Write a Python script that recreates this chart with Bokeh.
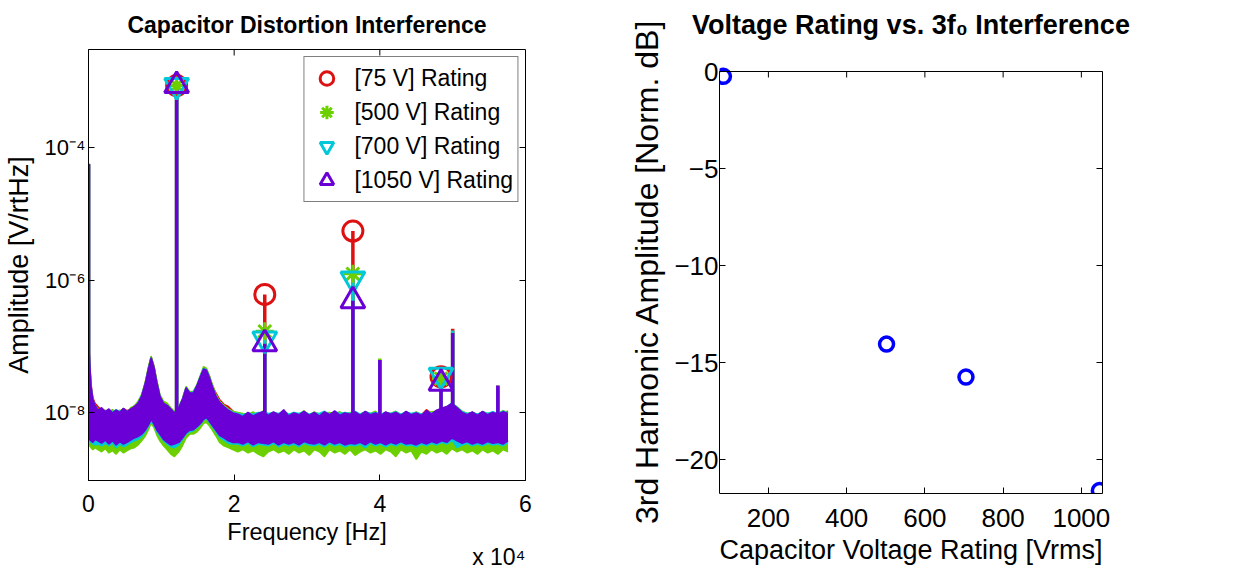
from bokeh.plotting import figure
from bokeh.layouts import row
from bokeh.models import (FixedTicker, LinearAxis, LogAxis, Legend, LegendItem,
                          Title, ColumnDataSource, Range1d, Span)
from bokeh.embed import file_html
from bokeh.resources import INLINE

FONT = "Liberation Sans"

# ---------------- data: left panel ----------------
SERIES = ["[75 V] Rating", "[500 V] Rating", "[700 V] Rating", "[1050 V] Rating"]
COLORS = ["#dd1111", "#6cd000", "#00c8d8", "#6a00d6"]
MARKERS = ["circle", "asterisk", "inverted_triangle", "triangle"]

FREQ_BAND = [0, 150, 350, 600, 900, 1300, 1800, 2300, 2800, 3300, 3800, 4300, 4800, 5300, 5800,
             6300, 6800, 7300, 7800, 8200, 8600, 9000, 9400, 9800, 10300, 10800, 11300, 11800,
             12400, 12900, 13400, 13900, 14400, 14900, 15400, 15800, 16200, 16600, 17000, 17500,
             18000, 18600, 19200, 19800,
             20500, 21200, 21900, 22600, 23300, 24000, 24700, 25400, 26100, 26800, 27500, 28200,
             28900, 29600, 30300, 31000, 31700, 32400, 33100, 33800, 34500, 35200, 35900, 36600,
             37300, 38000, 38700, 39400, 40100, 40800, 41500, 42200, 42900, 43600, 44300, 45000,
             45700, 46400, 47100, 47800, 48500, 49200, 49900, 50600, 51300, 52000, 52700, 53400,
             54100, 54800, 55500, 56200, 56900, 57600]

# noise envelopes, nV/rtHz
HI_75 = [160, 62, 27, 17, 14, 12.5, 11, 10.5, 11, 10.2, 11, 10.4, 11.6, 10.8, 11.5, 12.8, 14, 18, 29, 46,
         70, 50, 29, 18, 14.5, 13, 11.5, 10, 12, 16, 24, 20, 20, 26, 36, 47, 45, 36, 26, 20, 16, 13.5, 12.5, 10.8,
         9.4, 9.0, 9.8, 9.2, 10.0, 10.2, 9.4, 10.0, 9.2, 10.6, 9.2, 9.8, 9.6, 10.2, 9.4, 9.8, 9.2, 10.2, 9.6, 10.4,
         9.4, 9.8, 9.6, 10.2, 9.4, 10.2, 9.6, 9.8, 9.2, 10.0, 9.4, 9.8, 9.4, 10.2, 9.6, 9.8, 9.4, 11.2, 9.8, 10.8,
         11.6, 12.2, 13.8, 11.8, 10.0, 9.6, 10.2, 9.4, 10.2, 9.6, 10.0, 9.8, 10.2, 10.6]
LO_75 = [4.6, 4.1, 3.9, 3.7, 4.1, 3.9, 3.6, 4.0, 3.5, 3.9, 3.4, 3.8, 3.5, 3.7, 4.0, 4.3, 4.5, 4.9, 5.6, 6.6,
         8.1, 6.9, 5.6, 4.9, 4.1, 3.7, 3.4, 3.5, 3.7, 4.3, 5.1, 5.6, 5.7, 6.3, 7.1, 8.1, 8.6, 7.6, 6.6, 5.6, 4.7, 4.3, 3.9, 3.7,
         3.7, 3.5, 3.8, 3.4, 3.7, 3.6, 3.5, 3.8, 3.4, 3.7, 3.5, 3.7, 3.4, 3.8, 3.6, 3.5, 3.7, 3.4, 3.8, 3.5,
         3.7, 3.4, 3.6, 3.5, 3.7, 3.4, 3.8, 3.5, 3.7, 3.4, 3.7, 3.5, 3.8, 3.5, 3.6, 3.4, 3.7, 3.5, 3.8, 3.6,
         3.9, 3.7, 4.3, 3.9, 3.6, 3.8, 3.5, 3.7, 3.5, 3.8, 3.6, 3.7, 3.5, 3.9]
HI_500 = [140, 55, 24, 15, 13, 11.5, 11, 11, 10.5, 11.2, 10.2, 11, 10.8, 10, 12, 12.8, 15, 19, 29, 48,
          72, 50, 30, 19, 15, 14, 12, 10.5, 12.5, 16.5, 25, 21, 21, 27, 38, 50, 47, 36, 27, 19, 15, 13, 11.5, 10.6,
          10.2, 9.8, 9.5, 10.4, 9.2, 10.8, 9.6, 10.0, 9.4, 10.6, 9.4, 10.2, 9.6, 10.8, 9.4, 10.4, 9.6, 10.0, 10.2, 9.8,
          10.4, 9.4, 10.2, 9.8, 9.6, 10.4, 9.8, 10.6, 9.2, 10.2, 9.8, 10.6, 9.4, 10.2, 9.6, 10.4, 9.4, 10.0, 10.4, 10.6,
          11.4, 12.0, 13.6, 12.4, 10.6, 9.8, 10.2, 9.4, 10.4, 9.8, 10.0, 9.6, 10.8, 10.2]
LO_500 = [3.5, 3.2, 3.0, 2.8, 3.0, 2.8, 2.6, 2.9, 2.5, 2.7, 2.4, 2.8, 2.5, 2.7, 2.9, 3.0, 3.3, 3.8, 4.5, 5.5,
          7, 6, 4.6, 3.8, 3.2, 2.8, 2.4, 2.2, 2.6, 3.2, 4.2, 4.8, 4.8, 5.2, 6, 7, 7.2, 6.4, 5.5, 4.5, 3.6, 3.2, 3.0, 2.8,
          2.6, 2.8, 2.5, 2.7, 2.4, 2.2, 2.6, 2.8, 2.5, 2.7, 2.4, 2.8, 2.5, 2.7, 2.3, 2.8, 2.6, 2.2, 2.8, 2.5,
          2.7, 2.4, 2.8, 2.3, 2.6, 2.8, 2.5, 2.7, 2.4, 2.8, 2.6, 2.2, 2.8, 2.5, 2.7, 2.0, 2.6, 2.4, 2.8, 2.5,
          2.7, 2.4, 2.9, 2.6, 2.8, 2.5, 2.7, 2.4, 2.8, 2.5, 2.7, 2.4, 2.8, 2.6]
HI_700 = [150, 58, 25, 16, 13, 11, 11.5, 10.5, 11, 10.4, 11.2, 10.5, 11.5, 10.6, 11.2, 12.5, 14, 18.5, 28, 45,
          68, 47, 28, 18, 14, 13, 11.5, 10, 12, 16, 24, 20, 21, 26, 37, 47, 45, 35, 25, 18, 14.5, 12.5, 11.2, 10.2,
          9.8, 9.4, 10.0, 9.6, 10.2, 10.2, 9.8, 10.2, 9.8, 10.6, 9.6, 10.2, 9.8, 10.4, 9.6, 10.0, 9.8, 10.6, 9.6, 10.4,
          9.8, 10.2, 9.8, 10.6, 9.6, 10.4, 9.8, 10.2, 9.6, 10.2, 9.8, 10.4, 9.6, 10.4, 9.8, 10.2, 9.6, 10.4, 9.8, 10.6,
          11.6, 12.4, 14.2, 12.2, 10.4, 9.8, 10.2, 9.6, 10.4, 9.8, 10.4, 9.8, 10.6, 10.0]
LO_700 = [4.0, 3.8, 3.6, 3.4, 3.3, 3.4, 3.2, 3.5, 3.2, 3.5, 3.0, 3.4, 3.1, 3.3, 3.6, 3.8, 4.0, 4.4, 5.2, 6.2,
          7.5, 6.5, 5.2, 4.5, 3.8, 3.4, 3.1, 3.0, 3.3, 4.0, 4.8, 5.2, 5.4, 6, 6.8, 7.8, 8.2, 7.2, 6.2, 5.2, 4.3, 3.9, 3.5, 3.4,
          3.4, 3.2, 3.5, 3.1, 3.4, 3.3, 3.2, 3.5, 3.1, 3.4, 3.2, 3.4, 3.1, 3.5, 3.3, 3.2, 3.4, 3.1, 3.5, 3.2,
          3.4, 3.1, 3.3, 3.2, 3.4, 3.0, 3.5, 3.2, 3.4, 3.1, 3.4, 3.2, 3.5, 3.2, 3.3, 3.1, 3.4, 3.2, 3.5, 3.3,
          3.6, 3.4, 3.9, 3.0, 3.3, 3.5, 3.2, 3.4, 3.2, 3.5, 3.3, 3.4, 3.2, 3.6]
HI_1050 = [150, 60, 25, 16, 13, 11, 12, 10.5, 11.5, 10, 11, 10.2, 11.8, 10.4, 11.5, 12.5, 14, 18, 28, 45,
           68, 48, 28, 18, 14, 13, 11.5, 10, 12, 16, 24, 20, 20, 26, 36, 46, 44, 34, 25, 18, 14.5, 12.5, 11, 10,
           9.6, 8.8, 10.2, 9.0, 9.8, 10.5, 9.2, 10.4, 9.4, 11.2, 9.0, 10.0, 9.4, 10.6, 9.2, 10.2, 9.0, 10.4, 9.4, 10.8,
           9.2, 10.0, 9.6, 10.4, 9.2, 10.6, 9.4, 10.0, 9.0, 10.4, 9.6, 10.2, 9.2, 10.6, 9.4, 10.0, 9.2, 10.8, 9.6, 11.0,
           11.8, 12.5, 14.0, 12.0, 10.2, 9.4, 10.4, 9.2, 10.6, 9.4, 10.2, 9.6, 10.4, 9.8]
LO_1050 = [4.5, 4.0, 3.8, 3.6, 4, 3.8, 3.5, 3.9, 3.4, 3.8, 3.3, 3.7, 3.4, 3.6, 3.9, 4.2, 4.4, 4.8, 5.5, 6.5,
           8, 6.8, 5.5, 4.8, 4, 3.6, 3.3, 3.4, 3.6, 4.2, 5, 5.5, 5.6, 6.2, 7, 8, 8.5, 7.5, 6.5, 5.5, 4.6, 4.2, 3.8, 3.6,
           3.6, 3.4, 3.7, 3.3, 3.6, 3.5, 3.4, 3.7, 3.3, 3.6, 3.4, 3.6, 3.3, 3.7, 3.5, 3.4, 3.6, 3.3, 3.7, 3.4,
           3.6, 3.3, 3.5, 3.4, 3.6, 3.3, 3.7, 3.4, 3.6, 3.3, 3.6, 3.4, 3.7, 3.4, 3.5, 3.3, 3.6, 3.4, 3.7, 3.5,
           3.8, 3.6, 4.2, 3.8, 3.5, 3.7, 3.4, 3.6, 3.4, 3.7, 3.5, 3.6, 3.4, 3.8]
NV = 1e-9  # envelope unit

# harmonic peaks (V/rtHz)
HARM_FREQ = [12100, 24200, 36300, 48400]
HARM_75 = [8.6e-4, 6.1e-7, 5.5e-6, 3.5e-8]
HARM_500 = [8.6e-4, 1.7e-7, 1.25e-6, 3.3e-8]
HARM_700 = [8.6e-4, 1.3e-7, 1.05e-6, 3.7e-8]
HARM_1050 = [8.6e-4, 1.1e-7, 4.9e-7, 2.8e-8]

# other spectral lines (V/rtHz)
SPUR_FREQ = [0, 40000, 50000, 56200]
SPUR_75 = [5.5e-5, 6.2e-8, 1.85e-7, 2.5e-8]
SPUR_500 = [5.6e-5, 6.6e-8, 1.7e-7, 2.6e-8]
SPUR_700 = [5.6e-5, 6.3e-8, 1.75e-7, 2.5e-8]
SPUR_1050 = [5.7e-5, 6.3e-8, 1.6e-7, 2.6e-8]
LINE_BASE = 4e-9

HI = [HI_75, HI_500, HI_700, HI_1050]
LO = [LO_75, LO_500, LO_700, LO_1050]
HARM = [HARM_75, HARM_500, HARM_700, HARM_1050]
SPUR = [SPUR_75, SPUR_500, SPUR_700, SPUR_1050]

X1_TICKS = [0, 20000, 40000, 60000]
X1_LABELS = ["0", "2", "4", "6"]
Y1_TICKS = [1e-8, 1e-6, 1e-4]
Y1_LABELS = ["10\u207b\u2078", "10\u207b\u2076", "10\u207b\u2074"]
Y1_MIN, Y1_MAX = 9.6e-10, 3.0e-3

# ---------------- data: right panel ----------------
RATING_V = [85, 502, 705, 1046]
THIRD_HARM_DB = [-0.25, -14.05, -15.75, -21.6]
X2_TICKS = [200, 400, 600, 800, 1000]
Y2_TICKS = [-20, -15, -10, -5, 0]
Y2_LABELS = ["\u221220", "\u221215", "\u221210", "\u22125", "0"]
X2_MIN, X2_MAX = 75, 1054
Y2_MIN, Y2_MAX = -21.75, 0.0
Y2_HEADROOM = 1.134   # blank frame space above the box (22 px)

TICK_PX = 6


def style_axis(ax, fs, lfs):
    ax.axis_line_color = "black"
    ax.major_tick_line_color = "black"
    ax.major_tick_in = TICK_PX
    ax.major_tick_out = 0
    ax.minor_tick_line_color = None
    ax.major_label_text_font = FONT
    ax.major_label_text_font_size = fs
    ax.major_label_text_color = "black"
    ax.axis_label_text_font = FONT
    ax.axis_label_text_font_size = lfs
    ax.axis_label_text_font_style = "normal"
    ax.axis_label_text_color = "black"


def mirror(p, cls, ticker, place, bounds="auto", line=False):
    ax = cls(ticker=ticker, bounds=bounds)
    style_axis(ax, "1px", "1px")
    ax.major_label_text_alpha = 0
    ax.axis_line_color = "black" if line else None
    ax.major_label_standoff = 0
    ax.axis_label_standoff = 0
    p.add_layout(ax, place)


def add_title(p, text, size, standoff):
    p.add_layout(Title(text=text, align="center", vertical_align="top", text_font=FONT,
                       text_font_size=size, text_font_style="bold", text_color="black",
                       standoff=standoff), "above")


# ---------------- left figure ----------------
p1 = figure(frame_width=437, frame_height=431, x_range=Range1d(0, 60000), y_range=Range1d(Y1_MIN, Y1_MAX),
            y_axis_type="log", output_backend="svg", toolbar_location=None, title=None,
            min_border_left=85, min_border_right=98, min_border_top=49, min_border_bottom=92)
p1.outline_line_color = "black"
p1.outline_line_width = 1
p1.grid.visible = False
p1.background_fill_color = "white"
p1.border_fill_color = "white"

for i in range(4):
    src = ColumnDataSource(dict(f=FREQ_BAND, lo=[v * NV for v in LO[i]], hi=[v * NV for v in HI[i]]))
    p1.varea(x="f", y1="lo", y2="hi", source=src, fill_color=COLORS[i])
    p1.line(x="f", y="hi", source=src, line_color=COLORS[i], line_width=1.5)
    p1.line(x="f", y="lo", source=src, line_color=COLORS[i], line_width=1.5)
    lf = HARM_FREQ + SPUR_FREQ
    lv = HARM[i] + SPUR[i]
    p1.segment(x0=lf, y0=[LINE_BASE] * len(lf), x1=lf, y1=lv, line_color=COLORS[i], line_width=3.5)

marker_renderers = []
sizes = [20, 18, 24, 24]
for i in range(4):
    r = p1.scatter(x=HARM_FREQ, y=HARM[i], marker=MARKERS[i], size=sizes[i],
                   line_color=COLORS[i], fill_color=None, line_width=3)
    marker_renderers.append(r)

# inward tick marks along the top edge of the left box
top_tick_len = 10 ** (TICK_PX / 66.3)
p1.segment(x0=X1_TICKS[1:3], y0=[Y1_MAX] * 2, x1=X1_TICKS[1:3], y1=[Y1_MAX / top_tick_len] * 2,
           line_color="black", line_width=1)

xt1 = FixedTicker(ticks=X1_TICKS)
yt1 = FixedTicker(ticks=Y1_TICKS)
xa = p1.xaxis[0]
xa.ticker = xt1
xa.major_label_overrides = dict(zip(X1_TICKS, X1_LABELS))
xa.axis_label = "Frequency [Hz]"
style_axis(xa, "23px", "23.5px")
xa.major_label_standoff = 14
xa.axis_label_standoff = 4
ya = p1.yaxis[0]
ya.ticker = yt1
ya.major_label_overrides = dict(zip(Y1_TICKS, Y1_LABELS))
ya.axis_label = "Amplitude [V/rtHz]"
style_axis(ya, "22px", "27px")
ya.major_label_standoff = 3
ya.axis_label_standoff = 8
mirror(p1, LogAxis, yt1, "right")
add_title(p1, "Capacitor Distortion Interference", "23px", 20)
p1.add_layout(Title(text="x 10\u2074", align="right", text_font=FONT, text_font_size="23px",
                    text_font_style="normal", text_color="black", standoff=-12), "below")

legend = Legend(items=[LegendItem(label=SERIES[i], renderers=[marker_renderers[i]]) for i in range(4)],
                location="top_right", margin=7, padding=4, spacing=0,
                glyph_width=36, glyph_height=34, label_height=34, label_standoff=10,
                label_text_font=FONT, label_text_font_size="23px", label_text_color="black",
                border_line_color="black", border_line_width=1, background_fill_alpha=1)
p1.add_layout(legend)

# ---------------- right figure ----------------
p2 = figure(frame_width=383, frame_height=444, x_range=Range1d(X2_MIN, X2_MAX),
            y_range=Range1d(Y2_MIN, Y2_MAX + Y2_HEADROOM),
            output_backend="svg", toolbar_location=None, title=None,
            min_border_left=96, min_border_right=134, min_border_top=49, min_border_bottom=79)
p2.outline_line_color = None
p2.grid.visible = False

p2.scatter(x=RATING_V, y=THIRD_HARM_DB, marker="circle", size=14, line_color="#0000ff",
           fill_color=None, line_width=3.5)

# top edge of the box and its inward ticks
p2.add_layout(Span(location=Y2_MAX, dimension="width", line_color="black", line_width=1))
tick_len_db = TICK_PX * (Y2_MAX - Y2_MIN) / 422
p2.segment(x0=X2_TICKS, y0=[Y2_MAX] * len(X2_TICKS), x1=X2_TICKS,
           y1=[Y2_MAX - tick_len_db] * len(X2_TICKS), line_color="black", line_width=1)

xt2 = FixedTicker(ticks=X2_TICKS)
yt2 = FixedTicker(ticks=Y2_TICKS)
xb = p2.xaxis[0]
xb.ticker = xt2
xb.axis_label = "Capacitor Voltage Rating [Vrms]"
style_axis(xb, "26px", "27px")
xb.major_label_standoff = 15
xb.axis_label_standoff = 5
yb = p2.yaxis[0]
yb.ticker = yt2
yb.bounds = (Y2_MIN, Y2_MAX)
yb.major_label_overrides = dict(zip(Y2_TICKS, Y2_LABELS))
yb.axis_label = "3rd Harmonic Amplitude [Norm. dB]"
style_axis(yb, "26px", "32px")
yb.major_label_standoff = 1
yb.axis_label_standoff = 6
mirror(p2, LinearAxis, yt2, "right", bounds=(Y2_MIN, Y2_MAX), line=True)
add_title(p2, "Voltage Rating vs. 3f\u2080 Interference", "27px", 16)

layout = row(p1, p2)
open("out.html", "w").write(file_html(layout, INLINE))
